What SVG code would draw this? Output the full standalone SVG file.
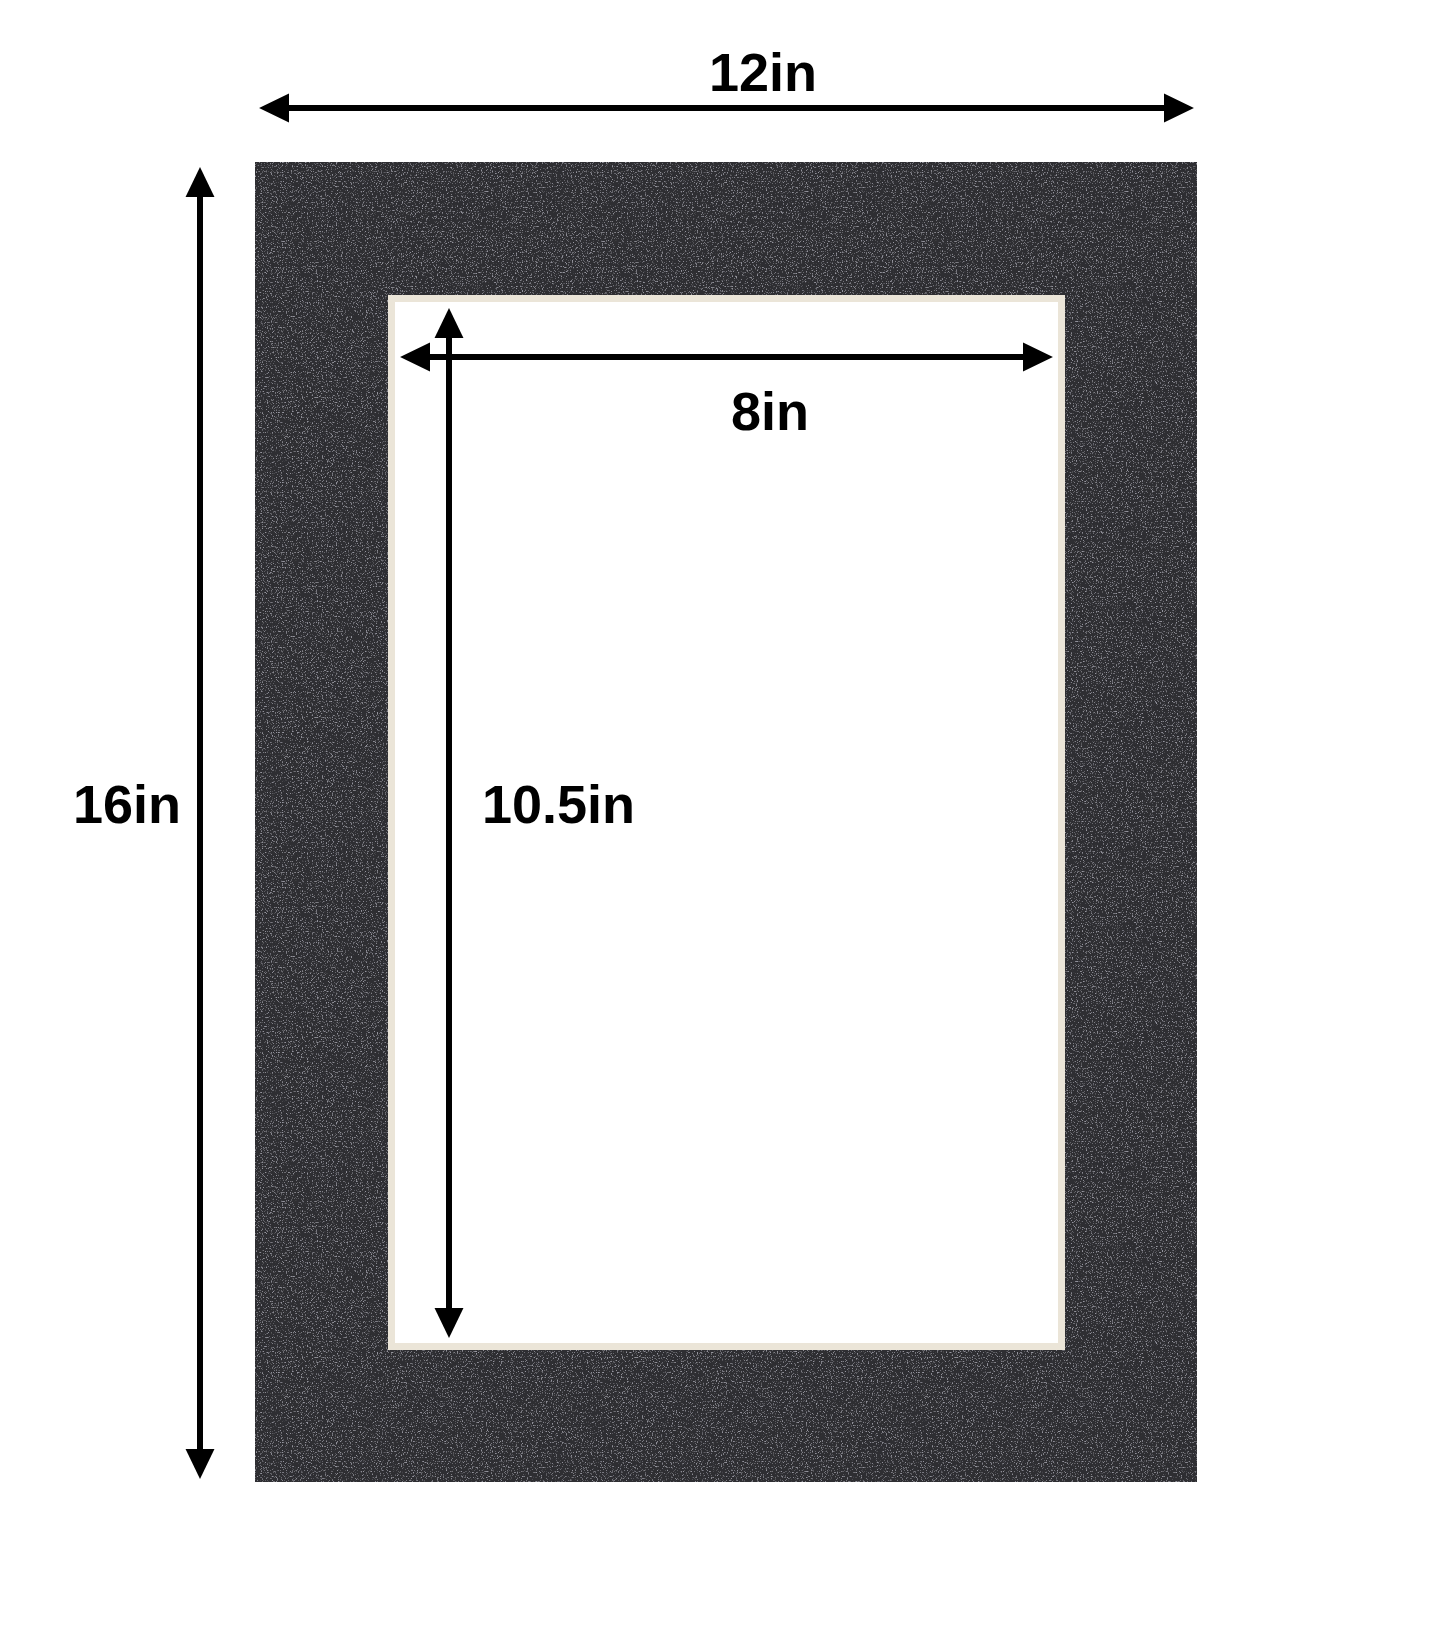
<svg xmlns="http://www.w3.org/2000/svg" width="1445" height="1645" viewBox="0 0 1445 1645">
  <style>
    .dim { stroke: #000; stroke-width: 6; fill: none; }
    .lbl { font-family: "Liberation Sans", Arial, sans-serif; font-weight: 700; font-size: 54px; fill: #000; }
  </style>
  <defs>
    <marker id="ah" markerUnits="userSpaceOnUse" markerWidth="30" markerHeight="30" viewBox="0 0 29 28" refX="1" refY="14" orient="auto-start-reverse">
      <path d="M0,0 L29,14 L0,28 Z" fill="#000"/>
    </marker>
    <filter id="grain" x="0" y="0" width="100%" height="100%">
      <feTurbulence type="fractalNoise" baseFrequency="0.8" numOctaves="2" seed="3" result="n"/>
      <feColorMatrix in="n" type="matrix" values="0 0 0 0 0.3  0 0 0 0 0.3  0 0 0 0 0.34  0 0 0 5 -2.9" result="spk"/>
      <feComposite in="spk" in2="SourceGraphic" operator="in" result="s"/>
      <feMerge><feMergeNode in="SourceGraphic"/><feMergeNode in="s"/></feMerge>
    </filter>
  </defs>
  <rect width="1445" height="1645" fill="#fff"/>

  <g id="mat">
    <path d="M255,162 H1197 V1482 H255 Z M388,295 V1350 H1065 V295 Z" fill="#2e2d33" fill-rule="evenodd" filter="url(#grain)"/>
  </g>
  <g id="opening">
    <rect x="388" y="295" width="677" height="1055" fill="#ebe5d8"/>
    <rect x="395" y="302" width="663" height="1041" fill="#ffffff"/>
  </g>

  <g id="connectors">
    <line id="dim-12in" class="dim" x1="288" y1="108" x2="1165" y2="108" marker-start="url(#ah)" marker-end="url(#ah)"/>
    <line id="dim-16in" class="dim" x1="200" y1="196" x2="200" y2="1450" marker-start="url(#ah)" marker-end="url(#ah)"/>
    <line id="dim-8in" class="dim" x1="429" y1="357" x2="1024" y2="357" marker-start="url(#ah)" marker-end="url(#ah)"/>
    <line id="dim-10-5in" class="dim" x1="449" y1="337" x2="449" y2="1309" marker-start="url(#ah)" marker-end="url(#ah)"/>
  </g>

  <g id="labels">
    <text id="t12" class="lbl" x="763" y="91" text-anchor="middle">12in</text>
    <text id="t8" class="lbl" x="770" y="430" text-anchor="middle">8in</text>
    <text id="t16" class="lbl" x="73" y="823">16in</text>
    <text id="t105" class="lbl" x="482" y="823">10.5in</text>
  </g>
</svg>
